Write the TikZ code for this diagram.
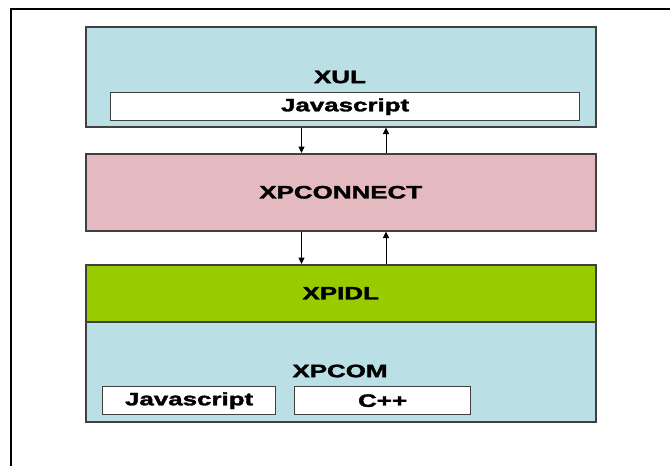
\documentclass[tikz,border=0pt]{standalone}
\usepackage{fontspec}
\usepackage{graphicx}
\setmainfont{Liberation Sans}[BoldFeatures={FakeBold=1.6}]
\usetikzlibrary{arrows.meta}
\definecolor{boxblue}{RGB}{186,223,228}
\definecolor{boxpink}{RGB}{229,185,192}
\definecolor{boxgreen}{RGB}{153,204,0}
\definecolor{edge}{RGB}{64,64,64}
\newcommand{\lbl}[1]{\scalebox{1.44}[1]{\bfseries #1}}
\tikzset{
  layer/.style={draw=edge, line width=1.5pt, inner sep=0pt, anchor=north west},
  inbox/.style={draw=edge, line width=1.3pt, fill=white, inner sep=0pt, anchor=north west},
  lab/.style={font=\fontsize{18}{20}\selectfont, inner sep=0pt},
  conn/.style={line width=1pt, -{Triangle[width=6pt,length=6.5pt]}},
}
\begin{document}
\begin{tikzpicture}[x=1pt,y=-1pt]
\useasboundingbox (0,0) rectangle (670,466);
% outer frame
\draw[line width=2pt] (11,466) -- (11,8);
\draw[line width=1.5pt] (10,9) -- (670,9);
% layers
\node[layer, fill=boxblue, minimum width=510pt, minimum height=100pt] (xul) at (85,26) {};
\node[inbox, minimum width=469pt, minimum height=28pt] (xuljs) at (110,92) {};
\node[lab] (xullab) at (340,77) {\lbl{XUL}};
\node[lab] at (xuljs.center) {\lbl{Javascript}};

\node[layer, fill=boxpink, minimum width=510pt, minimum height=77pt] (xpc) at (85,153) {};
\node[lab] at (xpc.center) {\lbl{XPCONNECT}};

\node[layer, fill=boxgreen, minimum width=510pt, minimum height=57pt] (xpidl) at (85,264) {};
\node[lab] at (xpidl.center) {\lbl{XPIDL}};

\node[layer, fill=boxblue, minimum width=510pt, minimum height=100pt] (xpcom) at (85,321) {};
\node[lab] (xpcomlab) at (340,371) {\lbl{XPCOM}};
\node[inbox, minimum width=173pt, minimum height=28pt] (js2) at (102,386) {};
\node[lab] at (js2.center) {\lbl{Javascript}};
\node[inbox, minimum width=176pt, minimum height=28pt] (cpp) at (294,386) {};
\node[lab] at (cpp.center) {\lbl{C++}};

% connectors
\coordinate (dn) at (301.5,0);
\coordinate (up) at (386,0);
\draw[conn] (xul.south -| dn) -- (xpc.north -| dn);
\draw[conn] (xpc.north -| up) -- (xul.south -| up);
\draw[conn] (xpc.south -| dn) -- (xpidl.north -| dn);
\draw[conn] (xpidl.north -| up) -- (xpc.south -| up);
\end{tikzpicture}
\end{document}
